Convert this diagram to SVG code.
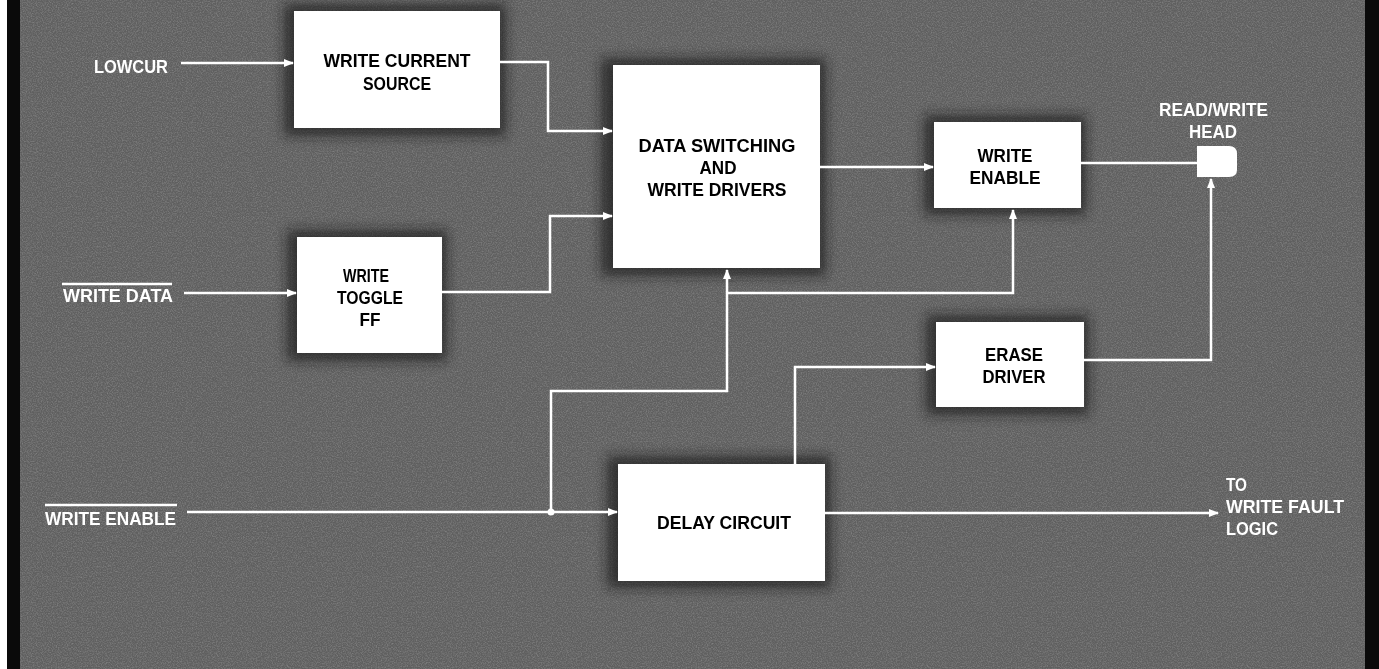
<svg xmlns="http://www.w3.org/2000/svg" width="1379" height="669" viewBox="0 0 1379 669">
<defs>
<style>
.bg{fill:#5f5f5f}
.box{fill:#ffffff}
.shadow{fill:#1a1a1a;opacity:0.7}
.in{font-family:"Liberation Sans",Arial,sans-serif;font-weight:bold;font-size:19px;fill:#000000;text-anchor:middle}
.out{font-family:"Liberation Sans",Arial,sans-serif;font-weight:bold;font-size:19px;fill:#ffffff}
.wire{fill:none;stroke:#ffffff;stroke-width:2.5;stroke-linejoin:miter}
.ovl{stroke:#ffffff;stroke-width:2.5}
</style>
<marker id="ah" markerWidth="10" markerHeight="8" refX="9" refY="4" orient="auto" markerUnits="userSpaceOnUse">
<path d="M0,0 L10,4 L0,8 Z" fill="#ffffff"/>
</marker>
<filter id="grain" x="0" y="0" width="100%" height="100%">
<feTurbulence type="fractalNoise" baseFrequency="0.8" numOctaves="2" seed="7" result="n"/>
<feColorMatrix in="n" type="matrix" values="0 0 0 0 1  0 0 0 0 1  0 0 0 0 1  1.2 0 0 0 -0.45" result="w"/>
<feComposite in="w" in2="SourceGraphic" operator="in"/>
</filter>
<filter id="blur"><feGaussianBlur stdDeviation="6"/></filter>
</defs>
<rect class="bg" x="0" y="0" width="1379" height="669"/>
<rect x="0" y="0" width="1379" height="669" fill="#5f5f5f" filter="url(#grain)" opacity="0.35"/>
<rect x="0" y="0" width="7" height="669" fill="#ffffff"/>
<rect x="7" y="0" width="13" height="669" fill="#0a0a0a"/>
<rect x="1365" y="0" width="14" height="669" fill="#0a0a0a"/>

<g id="shadows" filter="url(#blur)">
<rect class="shadow" x="284" y="4" width="222" height="132"/>
<rect class="shadow" x="287" y="230" width="160" height="131"/>
<rect class="shadow" x="601" y="58" width="225" height="218"/>
<rect class="shadow" x="924" y="115" width="162" height="100"/>
<rect class="shadow" x="926" y="315" width="163" height="100"/>
<rect class="shadow" x="607" y="456" width="224" height="132"/>
</g>

<g id="connectors">
<path class="wire" d="M181,63 H293" marker-end="url(#ah)"/>
<path class="wire" d="M184,293 H296" marker-end="url(#ah)"/>
<path class="wire" d="M187,512 H617" marker-end="url(#ah)"/>
<path class="wire" d="M500,62 H548 V131 H612" marker-end="url(#ah)"/>
<path class="wire" d="M442,292 H550 V216 H612" marker-end="url(#ah)"/>
<path class="wire" d="M820,167 H933" marker-end="url(#ah)"/>
<path class="wire" d="M1081,163 H1197"/>
<path class="wire" d="M1084,360 H1211 V179" marker-end="url(#ah)"/>
<path class="wire" d="M551,512 V391 H727 V270" marker-end="url(#ah)"/>
<path class="wire" d="M727,293 H1013 V210" marker-end="url(#ah)"/>
<path class="wire" d="M795,464 V367 H935" marker-end="url(#ah)"/>
<path class="wire" d="M825,513 H1218" marker-end="url(#ah)"/>
<circle cx="551" cy="512" r="3.5" fill="#ffffff"/>
</g>

<g id="lowcur-label"><text class="out" x="94" y="73" textLength="74" lengthAdjust="spacingAndGlyphs">LOWCUR</text></g>
<g id="write-data-label">
<line class="ovl" x1="62" y1="284" x2="172" y2="284"/>
<text class="out" x="63" y="302" textLength="110" lengthAdjust="spacingAndGlyphs">WRITE DATA</text>
</g>
<g id="write-enable-label">
<line class="ovl" x1="45" y1="505" x2="177" y2="505"/>
<text class="out" x="45" y="525" textLength="131" lengthAdjust="spacingAndGlyphs">WRITE ENABLE</text>
</g>

<g id="write-current-source">
<rect class="box" x="294" y="11" width="206" height="117"/>
<text class="in" x="397" y="67" textLength="147" lengthAdjust="spacingAndGlyphs">WRITE CURRENT</text>
<text class="in" x="397" y="90" textLength="68" lengthAdjust="spacingAndGlyphs">SOURCE</text>
</g>

<g id="write-toggle-ff">
<rect class="box" x="297" y="237" width="145" height="116"/>
<text class="in" x="366" y="282" textLength="46" lengthAdjust="spacingAndGlyphs">WRITE</text>
<text class="in" x="370" y="304" textLength="66" lengthAdjust="spacingAndGlyphs">TOGGLE</text>
<text class="in" x="370" y="326" textLength="21" lengthAdjust="spacingAndGlyphs">FF</text>
</g>

<g id="data-switching">
<rect class="box" x="613" y="65" width="207" height="203"/>
<text class="in" x="717" y="152" textLength="157" lengthAdjust="spacingAndGlyphs">DATA SWITCHING</text>
<text class="in" x="718" y="174" textLength="37" lengthAdjust="spacingAndGlyphs">AND</text>
<text class="in" x="717" y="196" textLength="139" lengthAdjust="spacingAndGlyphs">WRITE DRIVERS</text>
</g>

<g id="write-enable">
<rect class="box" x="934" y="122" width="147" height="86"/>
<text class="in" x="1005" y="162" textLength="55" lengthAdjust="spacingAndGlyphs">WRITE</text>
<text class="in" x="1005" y="184" textLength="71" lengthAdjust="spacingAndGlyphs">ENABLE</text>
</g>

<g id="read-write-head">
<text class="out" x="1159" y="116" textLength="109" lengthAdjust="spacingAndGlyphs">READ/WRITE</text>
<text class="out" x="1189" y="138" textLength="48" lengthAdjust="spacingAndGlyphs">HEAD</text>
<path class="box" d="M1197,146 H1229 Q1237,146 1237,154 V170 Q1237,177 1229,177 H1197 Z"/>
</g>

<g id="erase-driver">
<rect class="box" x="936" y="322" width="148" height="85"/>
<text class="in" x="1014" y="361" textLength="58" lengthAdjust="spacingAndGlyphs">ERASE</text>
<text class="in" x="1014" y="383" textLength="63" lengthAdjust="spacingAndGlyphs">DRIVER</text>
</g>

<g id="delay-circuit">
<rect class="box" x="618" y="464" width="207" height="117"/>
<text class="in" x="724" y="529" textLength="134" lengthAdjust="spacingAndGlyphs">DELAY CIRCUIT</text>
</g>

<g id="write-fault-label">
<text class="out" x="1226" y="491" textLength="21" lengthAdjust="spacingAndGlyphs">TO</text>
<text class="out" x="1226" y="513" textLength="118" lengthAdjust="spacingAndGlyphs">WRITE FAULT</text>
<text class="out" x="1226" y="535" textLength="52" lengthAdjust="spacingAndGlyphs">LOGIC</text>
</g>
</svg>
